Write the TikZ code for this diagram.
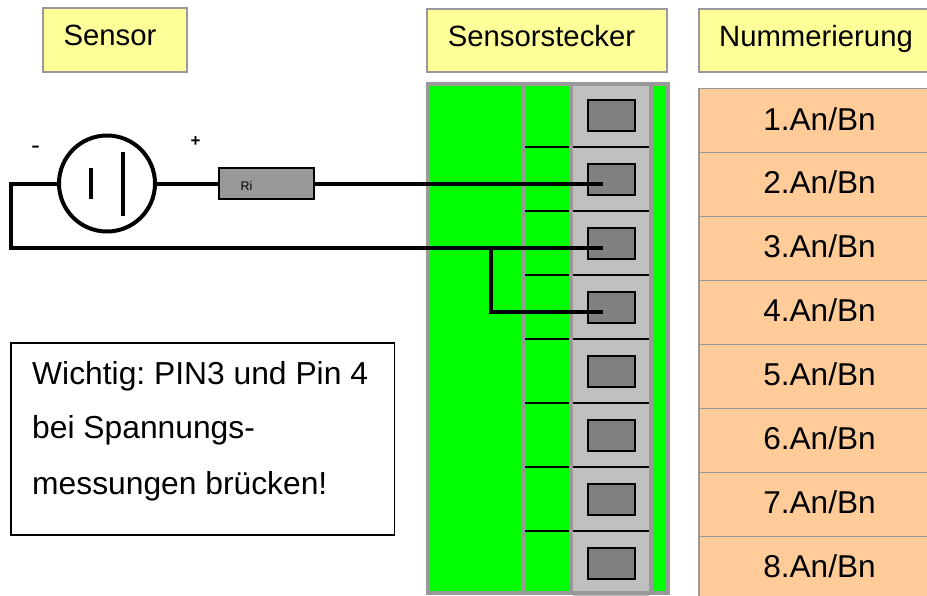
\documentclass[tikz,border=0pt]{standalone}
\usepackage{fontspec}
\setmainfont{Liberation Sans}
\usetikzlibrary{arrows,shapes,backgrounds,fit}

\definecolor{headfill}{RGB}{255,255,153}
\definecolor{numfill}{RGB}{255,204,153}
\definecolor{framegray}{RGB}{153,153,153}
\definecolor{slotgray}{RGB}{192,192,192}
\definecolor{pingray}{RGB}{128,128,128}

\begin{document}
\begin{tikzpicture}[x=1pt,y=-1pt]

	\tikzstyle{head}   = [rectangle, draw=framegray, line width=1.8pt, fill=headfill, minimum height=63.5pt, inner sep=0pt]
	\tikzstyle{num}    = [rectangle, draw=framegray, line width=1.8pt, fill=numfill, minimum width=232pt, minimum height=64pt, inner sep=0pt]
	\tikzstyle{strip}  = [rectangle, fill=framegray, minimum width=4pt, minimum height=508pt, inner sep=0pt]
	\tikzstyle{slot}   = [rectangle, fill=slotgray, minimum width=76pt, minimum height=64pt, inner sep=0pt]
	\tikzstyle{pin}    = [rectangle, draw=black, line width=2pt, fill=pingray, minimum width=47pt, minimum height=31pt, inner sep=0pt]
	\tikzstyle{wire}   = [line width=4pt, black]
	\tikzstyle{tick}   = [line width=2pt, black]
	\tikzstyle{lab}    = [anchor=base, inner sep=0pt, font=\fontsize{29.3}{30}\selectfont]
	\tikzstyle{big}    = [anchor=base west, inner sep=0pt, font=\frenchspacing\fontsize{31.8}{32}\selectfont]

	\useasboundingbox (0,0) rectangle (927,595);
	\fill[white] (0,0) rectangle (927,595);

	\node [head, minimum width=144pt] (hsensor) at (114.7,40) {};
	\node [lab] (thsensor) at (110,45) {Sensor};
	\node [head, minimum width=240pt] (hplug) at (547,40.5) {};
	\node [lab] (thplug) at (541.5,46.7) {Sensorstecker};
	\node [head, minimum width=232pt] (hnum) at (815,40.5) {};
	\node [lab] (thnum) at (816,46.7) {Nummerierung};

	% connector body
	\node [rectangle, fill=green, minimum width=240pt, minimum height=508pt, inner sep=0pt] (body) at (547.5,338.5) {};
	\node [strip] (sa) at (523,339) {};

	\foreach \i in {1,...,8} {
		\pgfmathsetmacro{\py}{115.5+(\i-1)*64}
		\node [slot] (slot\i) at (611,\py) {};
		\node [pin] (pin\i) at (611.5,\py) {};
		\node [num] (cell\i) at (815,{120.5+(\i-1)*64}) {};
		\node [lab, font=\fontsize{31.6}{32}\selectfont] (tcell\i) at (819.5,{130+(\i-1)*63.9}) {\i.An/Bn};
	}
	\node [strip] (sb) at (571,339) {};
	\node [strip] (sc) at (651,339) {};
	\node [rectangle, draw=framegray, line width=4pt, minimum width=240pt, minimum height=509pt, inner sep=0pt] (frame) at (547.5,338.5) {};
	\foreach \i in {1,...,7} {
		\draw [tick] (525,{147+(\i-1)*64}) -- (569,{147+(\i-1)*64});
		\draw [tick] (573,{147+(\i-1)*64}) -- (649,{147+(\i-1)*64});
	}

	% sensor
	\node [circle, draw=black, line width=4pt, fill=white, minimum size=96pt, inner sep=0pt] (src) at (107,183.5) {};
	\node [rectangle, draw=black, line width=2pt, fill=framegray, minimum width=95pt, minimum height=31pt, inner sep=0pt] (ri) at (266.5,183.5) {};
	\node [font=\fontsize{12.5}{13}\selectfont, inner sep=0pt, anchor=base] (tri) at (246.5,190.5) {Ri};
	\node [font=\bfseries\fontsize{17}{18}\selectfont, xscale=1.5] (minus) at (35.5,149) {-};
	\node [font=\bfseries\fontsize{17}{18}\selectfont] (plus) at (195.5,142) {+};
	\draw [wire] (90.5,168) -- (90.5,199);
	\draw [wire] (122.5,152) -- (122.5,216);

	\coordinate (tl) at (10.5,183.5);
	\coordinate (bl) at (10.5,247.5);
	\coordinate (end2) at (603,183.5);
	\coordinate (end3) at (603,247.5);
	\coordinate (end4) at (603,311.5);
	\coordinate (tap) at (491,247.5);

	\draw [wire] (src.west) -- (tl) -- (bl) -- (end3);
	\draw [wire] (tap) -- (tap |- end4) -- (end4);
	\draw [wire] (src.east) -- (src.east -| ri.west);
	\draw [wire] (src.east -| ri.east) -- (end2);

	% note
	\node [rectangle, draw=black, line width=1.5pt, fill=white, minimum width=383.5pt, minimum height=192pt, inner sep=0pt] (note) at (202.7,439) {};
	\node [big] (la) at (32,384.3) {Wichtig: PIN3 und Pin 4};
	\node [big] (lb) at (32,438.3) {bei Spannungs-};
	\node [big] (lc) at (32,494.3) {messungen brücken!};
\end{tikzpicture}
\end{document}
